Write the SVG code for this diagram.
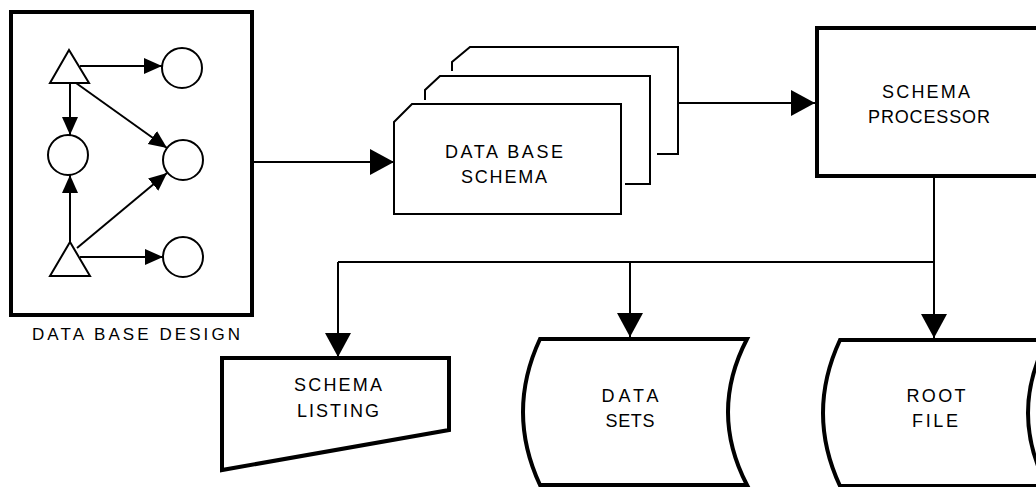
<svg xmlns="http://www.w3.org/2000/svg" width="1036" height="487" viewBox="0 0 1036 487">
<style>
.thick{fill:#fff;stroke:#000;stroke-width:4;stroke-linejoin:miter}
.thin{fill:#fff;stroke:#000;stroke-width:2}
.line{fill:none;stroke:#000;stroke-width:2}
.arr{marker-end:url(#big)}
.sarr{fill:none;stroke:#000;stroke-width:2;marker-end:url(#small)}
text{font-family:"Liberation Sans",Arial,sans-serif;font-size:18px;fill:#000;text-anchor:middle}
</style>
<defs>
<marker id="big" markerUnits="userSpaceOnUse" markerWidth="26" markerHeight="28" refX="24" refY="13" orient="auto">
<path d="M0,0 L24,13 L0,26 Z" fill="#000"/>
</marker>
<marker id="small" markerUnits="userSpaceOnUse" markerWidth="20" markerHeight="18" refX="18" refY="8" orient="auto">
<path d="M0,0 L18,8 L0,16 Z" fill="#000"/>
</marker>
</defs>
<rect width="1036" height="487" fill="#fff"/>

<g id="connectors">
<path class="line arr" d="M252,162 L394,162"/>
<path class="line arr" d="M678,103 L815,103"/>
<path class="line" d="M934,177 L934,262 L338,262"/>
<path class="line arr" d="M934,262 L934,338"/>
<path class="line arr" d="M630,262 L630,337"/>
<path class="line arr" d="M338,262 L338,357"/>
</g>

<g id="design">
<rect class="thick" x="11" y="12" width="241" height="303"/>
<polygon class="thin" points="69,50 50,83 89,83"/>
<polygon class="thin" points="70,242 50,276 90,276"/>
<circle class="thin" cx="182" cy="68" r="20"/>
<circle class="thin" cx="68" cy="155" r="20"/>
<circle class="thin" cx="183" cy="160" r="20"/>
<circle class="thin" cx="183" cy="257" r="20"/>
<path class="sarr" d="M80,66 L162,66"/>
<path class="sarr" d="M70,83 L70,135"/>
<path class="sarr" d="M76,83 L167,148"/>
<path class="sarr" d="M70,242 L70,175"/>
<path class="sarr" d="M77,248 L167,173"/>
<path class="sarr" d="M80,257 L163,257"/>
<text x="136" y="340" style="font-size:17px" textLength="208" lengthAdjust="spacing">DATA BASE DESIGN</text>
</g>

<g id="schema">
<path class="line" d="M452,71 L452,62 L470,47 L678,47 L678,154 L657,154"/>
<path class="line" d="M425,100 L425,90 L440,76 L650,76 L650,184 L625,184"/>
<path class="thin" d="M394,122 L412,104 L621,104 L621,214 L394,214 Z"/>
<text x="504" y="158" textLength="118" lengthAdjust="spacing">DATA BASE</text>
<text x="504" y="183" textLength="86" lengthAdjust="spacing">SCHEMA</text>
</g>

<g id="processor">
<rect class="thick" x="817" y="28" width="240" height="148"/>
<text x="926" y="98" textLength="88" lengthAdjust="spacing">SCHEMA</text>
<text x="929" y="123" textLength="122" lengthAdjust="spacing">PROCESSOR</text>
</g>

<g id="listing">
<polygon class="thick" points="222,358 449,358 449,430 222,470"/>
<text x="338" y="391" textLength="88" lengthAdjust="spacing">SCHEMA</text>
<text x="338" y="417" textLength="82" lengthAdjust="spacing">LISTING</text>
</g>

<g id="datasets">
<path class="thick" d="M540,339 L747,339 Q709,412 747,485 L540,485 Q506,412 540,339 Z"/>
<text x="630" y="402" textLength="57" lengthAdjust="spacing">DATA</text>
<text x="630" y="427" textLength="49" lengthAdjust="spacing">SETS</text>
</g>

<g id="rootfile">
<path class="thick" d="M840,340 L1047,340 Q1009,413 1047,486 L840,486 Q806,413 840,340 Z"/>
<text x="936" y="402" textLength="59" lengthAdjust="spacing">ROOT</text>
<text x="935" y="427" textLength="46" lengthAdjust="spacing">FILE</text>
</g>
</svg>
